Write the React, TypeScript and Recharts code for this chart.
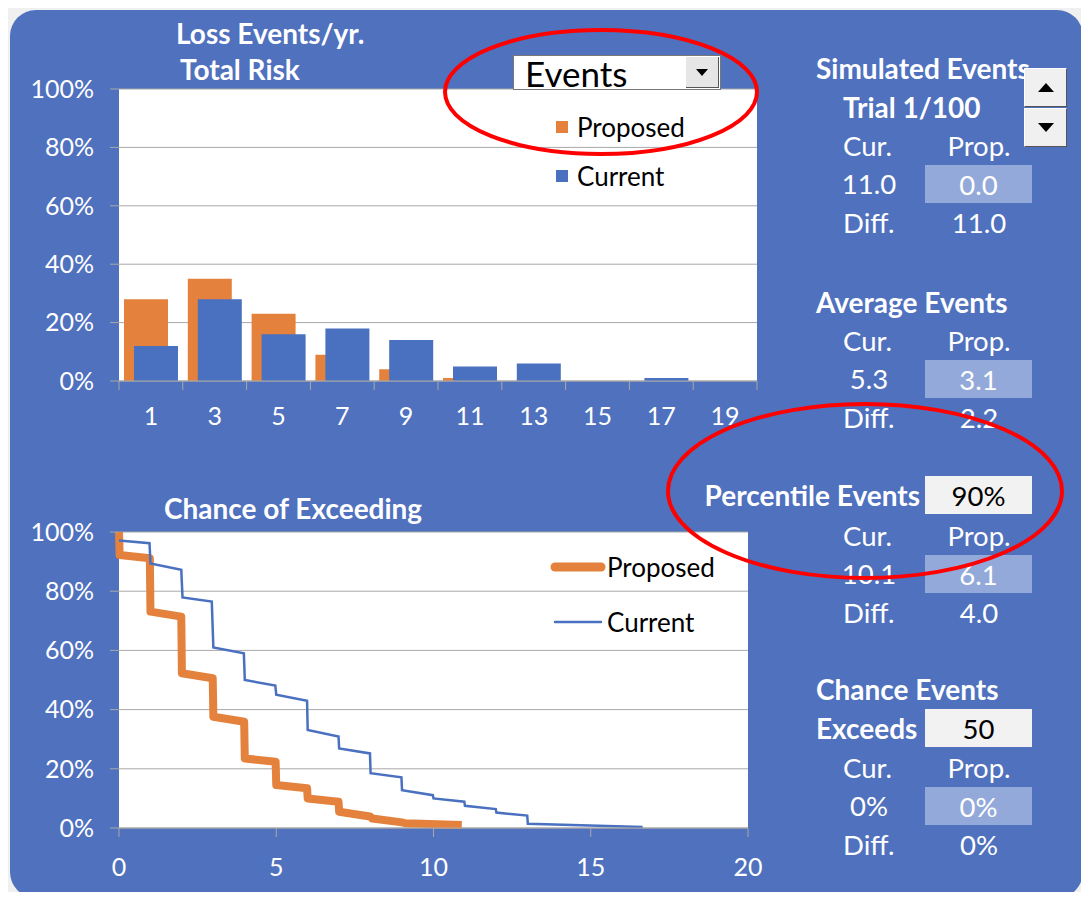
import React from 'react';
import {
  BarChart,
  Bar,
  LineChart,
  Line,
  XAxis,
  YAxis,
  CartesianGrid,
  Legend
} from 'recharts';

// histogram of loss events per year (share of trials, %)
const EVENT_BINS = ['1', '3', '5', '7', '9', '11', '13', '15', '17', '19'];
const PROPOSED_PCT = [28, 35, 23, 9, 4, 1, 0, 0, 0, 0];
const CURRENT_PCT = [12, 28, 16, 18, 14, 5, 6, 0, 1, 0];

const SERIES = ['Proposed', 'Current'];
const PCT_TICKS = [0, 20, 40, 60, 80, 100];
const EXCEED_TICKS = [0, 5, 10, 15, 20];

// chance of exceeding curves (events, %)
const PROPOSED_X = [0, 0.02, 0.98, 1, 1.98, 2, 2.98, 3, 3.98, 4, 4.98, 5, 5.98, 6, 6.98, 7, 7.98, 8.05, 9, 9.1, 10.9];
const PROPOSED_Y = [100, 92.2, 91.1, 73.1, 71.4, 52.3, 50.6, 37.6, 35.9, 23.5, 22.4, 14.5, 13.4, 10, 8.9, 5.5, 3.9, 3.2, 1.9, 1.6, 1.0];
const CURRENT_X = [0, 0.97, 1, 1.98, 2.02, 2.95, 3, 3.97, 4, 4.97, 5, 5.98, 6, 6.98, 7, 7.98, 8, 8.98, 9, 9.98, 10, 10.98, 11, 11.98, 12, 12.98, 13, 16.65];
const CURRENT_Y = [97.1, 96.2, 89.4, 87.2, 77.9, 76.5, 61, 59, 50, 48.1, 45, 43, 33.1, 30.9, 26.9, 25.2, 18.5, 17.1, 12.8, 11.1, 10, 8.9, 7.5, 6.4, 5.2, 4.2, 1.4, 0.3];

const PANEL = '#4f71be';
const ORANGE = '#e4823d';
const BLUE = '#4a70c0';
const GRID = '#a8a8a8';
const SOFT_BOX = '#93a9d9';
const FONT = 'Lato, "Open Sans", sans-serif';
const TICK_FONT = 25;
const BODY_FONT = 27.5;
const HEAD_FONT = 28;

const histData = EVENT_BINS.map((bin, i) => ({
  bin,
  proposed: PROPOSED_PCT[i],
  current: CURRENT_PCT[i]
}));
const proposedData = PROPOSED_X.map((x, i) => ({ x, y: PROPOSED_Y[i] }));
const currentData = CURRENT_X.map((x, i) => ({ x, y: CURRENT_Y[i] }));

const pct = (v: number) => `${v}%`;

// top chart plot geometry
const TOP_W = 770;
const TOP_MARGIN = { top: 89, right: 13, bottom: 19, left: 0 };
const Y_AXIS_W = 119;
const HALF_BAND = (TOP_W - TOP_MARGIN.right - Y_AXIS_W) / EVENT_BINS.length / 2;

const BinTick = (props: any) => {
  const { x, y, payload, index } = props;
  const top = y - 26;
  return (
    <g>
      <line x1={x - HALF_BAND} x2={x - HALF_BAND} y1={top} y2={top + 9} stroke={GRID} />
      {index === EVENT_BINS.length - 1 && (
        <line x1={x + HALF_BAND} x2={x + HALF_BAND} y1={top} y2={top + 9} stroke={GRID} />
      )}
      <text x={x} y={y} dy="0.71em" textAnchor="middle" fill="#fff" fontSize={TICK_FONT} fontFamily={FONT}>
        {payload.value}
      </text>
    </g>
  );
};

const makeLegend = (kind: 'square' | 'line', gap: number) => (props: any) => {
  const payload = [...(props.payload || [])].sort(
    (a: any, b: any) => SERIES.indexOf(a.value) - SERIES.indexOf(b.value)
  );
  return (
    <div style={{ fontFamily: FONT, fontSize: 26, color: '#000' }}>
      {payload.map((entry: any, i: number) => (
        <div key={entry.value} style={{ display: 'flex', alignItems: 'center', height: 30, marginTop: i === 0 ? 0 : gap - 30 }}>
          {kind === 'square' ? (
            <span style={{ width: 12, height: 12, background: entry.color, marginRight: 9 }} />
          ) : (
            <svg width={56} height={12} style={{ marginRight: 1 }}>
              <line
                x1={5}
                x2={51}
                y1={6}
                y2={6}
                stroke={entry.color}
                strokeWidth={entry.value === 'Proposed' ? 9 : 2.5}
                strokeLinecap="round"
              />
            </svg>
          )}
          <span>{entry.value}</span>
        </div>
      ))}
    </div>
  );
};

const Txt = ({ x, y, children, size = BODY_FONT, bold = false, anchor = 'start', color = '#fff' }: any) => (
  <div
    style={{
      position: 'absolute',
      left: x,
      top: y,
      transform: `translate(${anchor === 'middle' ? '-50%' : anchor === 'end' ? '-100%' : '0'}, -50%)`,
      fontSize: size,
      fontWeight: bold ? 700 : 400,
      color,
      whiteSpace: 'nowrap',
      fontFamily: FONT,
      lineHeight: 1
    }}
  >
    {children}
  </div>
);

const Box = ({ y, light = false, children }: any) => (
  <div
    style={{
      position: 'absolute',
      left: 925,
      top: y - 19,
      width: 107,
      height: 38,
      background: light ? '#f2f2f2' : SOFT_BOX,
      color: light ? '#000' : '#fff',
      display: 'flex',
      alignItems: 'center',
      justifyContent: 'center',
      fontFamily: FONT,
      fontSize: BODY_FONT
    }}
  >
    {children}
  </div>
);

const StatRows = ({ y, cur, prop, diff }: any) => (
  <>
    <Txt x={843} y={y}>Cur.</Txt>
    <Txt x={979} y={y} anchor="middle">Prop.</Txt>
    <Txt x={869} y={y + 38} anchor="middle">{cur}</Txt>
    <Box y={y + 38}>{prop}</Box>
    <Txt x={843} y={y + 77}>Diff.</Txt>
    <Txt x={979} y={y + 77} anchor="middle">{diff}</Txt>
  </>
);

const tri = (dir: 'up' | 'down') => (
  <svg width={16} height={9}>
    <polygon points={dir === 'up' ? '0,9 16,9 8,0' : '0,0 16,0 8,9'} fill="#000" />
  </svg>
);

const spinBtn: React.CSSProperties = {
  position: 'absolute',
  left: 1024,
  width: 43,
  height: 39,
  background: '#f0f0f0',
  borderTop: '1px solid #fff',
  borderLeft: '1px solid #fff',
  borderRight: '1px solid #555',
  borderBottom: '1px solid #555',
  boxSizing: 'border-box',
  display: 'flex',
  alignItems: 'center',
  justifyContent: 'center'
};

export default function App() {
  return (
    <div style={{ position: 'relative', width: 1089, height: 900, margin: -8, background: '#f0f0f0', overflow: 'hidden' }}>
      <div style={{ position: 'absolute', left: 10, top: 10, width: 1073, height: 888, borderRadius: 26, background: PANEL }} />

      <div style={{ position: 'absolute', left: 0, top: 0 }}>
        <BarChart width={TOP_W} height={440} data={histData} margin={TOP_MARGIN} barSize={44} barGap={-34}>
          <CartesianGrid vertical={false} stroke={GRID} fill="#fff" />
          <XAxis
            dataKey="bin"
            height={40}
            interval={0}
            axisLine={{ stroke: GRID }}
            tickLine={false}
            tickSize={9}
            tickMargin={17}
            tick={<BinTick />}
          />
          <YAxis
            width={Y_AXIS_W}
            domain={[0, 100]}
            ticks={PCT_TICKS}
            tickFormatter={pct}
            axisLine={false}
            tickLine={{ stroke: GRID }}
            tickSize={9}
            tickMargin={16}
            tick={{ fill: '#fff', fontSize: TICK_FONT, fontFamily: FONT }}
          />
          <Legend
            layout="vertical"
            align="center"
            verticalAlign="middle"
            wrapperStyle={{ left: 556, top: 112, width: 170 }}
            content={makeLegend('square', 49)}
          />
          <Bar dataKey="proposed" name="Proposed" fill={ORANGE} isAnimationActive={false} />
          <Bar dataKey="current" name="Current" fill={BLUE} isAnimationActive={false} />
        </BarChart>
      </div>

      <div style={{ position: 'absolute', left: 0, top: 470 }}>
        <LineChart width={770} height={430} margin={{ top: 62, right: 22, bottom: 32, left: 0 }}>
          <CartesianGrid vertical={false} stroke={GRID} fill="#fff" />
          <XAxis
            type="number"
            dataKey="x"
            domain={[0, 20]}
            ticks={EXCEED_TICKS}
            height={40}
            axisLine={{ stroke: GRID }}
            tickLine={{ stroke: GRID }}
            tickSize={9}
            tickMargin={21}
            tick={{ fill: '#fff', fontSize: TICK_FONT, fontFamily: FONT }}
          />
          <YAxis
            width={Y_AXIS_W}
            domain={[0, 100]}
            ticks={PCT_TICKS}
            tickFormatter={pct}
            axisLine={false}
            tickLine={{ stroke: GRID }}
            tickSize={9}
            tickMargin={16}
            tick={{ fill: '#fff', fontSize: TICK_FONT, fontFamily: FONT }}
          />
          <Legend
            layout="vertical"
            align="center"
            verticalAlign="middle"
            wrapperStyle={{ left: 550, top: 82, width: 190 }}
            content={makeLegend('line', 55)}
          />
          <Line
            data={proposedData}
            dataKey="y"
            name="Proposed"
            stroke={ORANGE}
            strokeWidth={8}
            strokeLinejoin="round"
            dot={false}
            isAnimationActive={false}
          />
          <Line
            data={currentData}
            dataKey="y"
            name="Current"
            stroke={BLUE}
            strokeWidth={2.5}
            dot={false}
            isAnimationActive={false}
          />
        </LineChart>
      </div>

      {/* chart titles */}
      <Txt x={176} y={33} size={HEAD_FONT} bold>Loss Events/yr.</Txt>
      <Txt x={180} y={69} size={HEAD_FONT} bold>Total Risk</Txt>
      <Txt x={164} y={508} size={HEAD_FONT} bold>Chance of Exceeding</Txt>

      {/* dropdown */}
      <div
        style={{
          position: 'absolute',
          left: 513,
          top: 55,
          width: 208,
          height: 35,
          background: '#fff',
          border: '1px solid #777',
          boxSizing: 'border-box'
        }}
      >
        <div style={{ position: 'absolute', left: 11, top: 0, lineHeight: '34px', fontFamily: FONT, fontSize: 35, color: '#000' }}>
          Events
        </div>
        <div
          style={{
            position: 'absolute',
            right: 1,
            top: 1,
            width: 33,
            height: 31,
            background: '#e6e6e6',
            borderRight: '1px solid #555',
            borderBottom: '1px solid #555',
            boxSizing: 'border-box',
            display: 'flex',
            alignItems: 'center',
            justifyContent: 'center'
          }}
        >
          <svg width={12} height={7}>
            <polygon points="0,0 12,0 6,7" fill="#000" />
          </svg>
        </div>
      </div>

      {/* simulated events */}
      <Txt x={816} y={68} size={HEAD_FONT} bold>Simulated Events</Txt>
      <div style={{ ...spinBtn, top: 68 }}>{tri('up')}</div>
      <div style={{ ...spinBtn, top: 108 }}>{tri('down')}</div>
      <Txt x={843} y={107} size={HEAD_FONT} bold>Trial 1/100</Txt>
      <StatRows y={146} cur="11.0" prop="0.0" diff="11.0" />

      {/* average events */}
      <Txt x={816} y={302} size={HEAD_FONT} bold>Average Events</Txt>
      <StatRows y={341} cur="5.3" prop="3.1" diff="2.2" />

      {/* percentile events */}
      <Txt x={920} y={495} size={HEAD_FONT} bold anchor="end">Percentile Events</Txt>
      <Box y={495} light>90%</Box>
      <StatRows y={536} cur="10.1" prop="6.1" diff="4.0" />

      {/* chance events exceeds */}
      <Txt x={816} y={689} size={HEAD_FONT} bold>Chance Events</Txt>
      <Txt x={816} y={728} size={HEAD_FONT} bold>Exceeds</Txt>
      <Box y={728} light>50</Box>
      <StatRows y={768} cur="0%" prop="0%" diff="0%" />

      {/* highlight rings */}
      <svg width={1089} height={900} style={{ position: 'absolute', left: 0, top: 0, pointerEvents: 'none' }}>
        <ellipse cx={601} cy={92} rx={156} ry={62} fill="none" stroke="#f00" strokeWidth={4} />
        <ellipse cx={865} cy={491} rx={197} ry={87} fill="none" stroke="#f00" strokeWidth={4} />
      </svg>
    </div>
  );
}
